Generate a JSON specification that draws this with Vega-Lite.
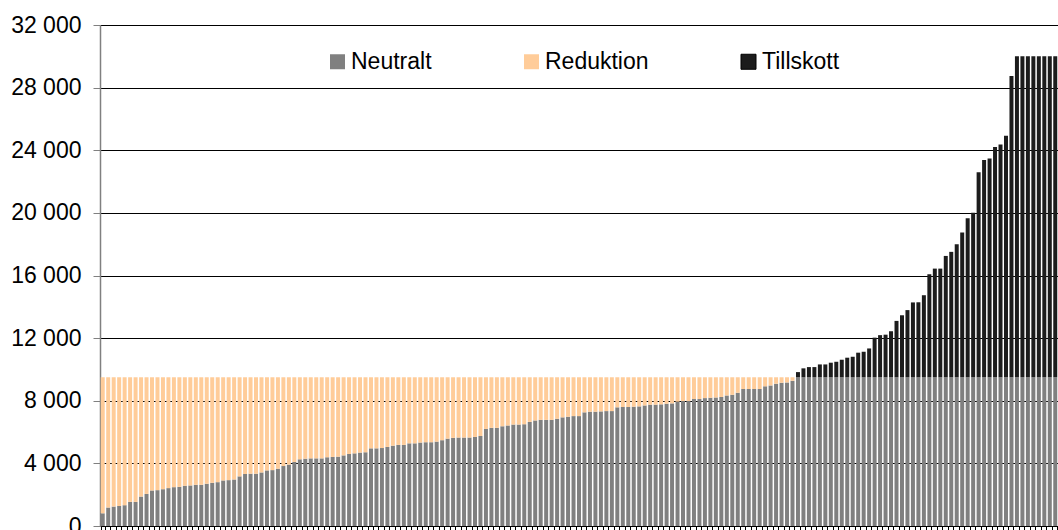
{
  "$schema": "https://vega.github.io/schema/vega-lite/v6.json",
  "autosize": {"type": "none"},
  "padding": {"left": 100, "top": 25, "right": 0, "bottom": 4},
  "width": 958,
  "height": 501,
  "background": "white",
  "config": {
    "view": {"stroke": null},
    "font": "Liberation Sans"
  },
  "data": {
    "values": [
      {"i":1,"Neutralt":810,"Reduktion":8690,"Tillskott":0},
      {"i":2,"Neutralt":1180,"Reduktion":8320,"Tillskott":0},
      {"i":3,"Neutralt":1240,"Reduktion":8260,"Tillskott":0},
      {"i":4,"Neutralt":1280,"Reduktion":8220,"Tillskott":0},
      {"i":5,"Neutralt":1330,"Reduktion":8170,"Tillskott":0},
      {"i":6,"Neutralt":1540,"Reduktion":7960,"Tillskott":0},
      {"i":7,"Neutralt":1540,"Reduktion":7960,"Tillskott":0},
      {"i":8,"Neutralt":1880,"Reduktion":7620,"Tillskott":0},
      {"i":9,"Neutralt":2050,"Reduktion":7450,"Tillskott":0},
      {"i":10,"Neutralt":2270,"Reduktion":7230,"Tillskott":0},
      {"i":11,"Neutralt":2290,"Reduktion":7210,"Tillskott":0},
      {"i":12,"Neutralt":2350,"Reduktion":7150,"Tillskott":0},
      {"i":13,"Neutralt":2420,"Reduktion":7080,"Tillskott":0},
      {"i":14,"Neutralt":2480,"Reduktion":7020,"Tillskott":0},
      {"i":15,"Neutralt":2500,"Reduktion":7000,"Tillskott":0},
      {"i":16,"Neutralt":2570,"Reduktion":6930,"Tillskott":0},
      {"i":17,"Neutralt":2590,"Reduktion":6910,"Tillskott":0},
      {"i":18,"Neutralt":2630,"Reduktion":6870,"Tillskott":0},
      {"i":19,"Neutralt":2630,"Reduktion":6870,"Tillskott":0},
      {"i":20,"Neutralt":2700,"Reduktion":6800,"Tillskott":0},
      {"i":21,"Neutralt":2760,"Reduktion":6740,"Tillskott":0},
      {"i":22,"Neutralt":2800,"Reduktion":6700,"Tillskott":0},
      {"i":23,"Neutralt":2910,"Reduktion":6590,"Tillskott":0},
      {"i":24,"Neutralt":2930,"Reduktion":6570,"Tillskott":0},
      {"i":25,"Neutralt":2970,"Reduktion":6530,"Tillskott":0},
      {"i":26,"Neutralt":3170,"Reduktion":6330,"Tillskott":0},
      {"i":27,"Neutralt":3320,"Reduktion":6180,"Tillskott":0},
      {"i":28,"Neutralt":3340,"Reduktion":6160,"Tillskott":0},
      {"i":29,"Neutralt":3340,"Reduktion":6160,"Tillskott":0},
      {"i":30,"Neutralt":3420,"Reduktion":6080,"Tillskott":0},
      {"i":31,"Neutralt":3550,"Reduktion":5950,"Tillskott":0},
      {"i":32,"Neutralt":3570,"Reduktion":5930,"Tillskott":0},
      {"i":33,"Neutralt":3660,"Reduktion":5840,"Tillskott":0},
      {"i":34,"Neutralt":3830,"Reduktion":5670,"Tillskott":0},
      {"i":35,"Neutralt":3920,"Reduktion":5580,"Tillskott":0},
      {"i":36,"Neutralt":4090,"Reduktion":5410,"Tillskott":0},
      {"i":37,"Neutralt":4260,"Reduktion":5240,"Tillskott":0},
      {"i":38,"Neutralt":4300,"Reduktion":5200,"Tillskott":0},
      {"i":39,"Neutralt":4320,"Reduktion":5180,"Tillskott":0},
      {"i":40,"Neutralt":4320,"Reduktion":5180,"Tillskott":0},
      {"i":41,"Neutralt":4320,"Reduktion":5180,"Tillskott":0},
      {"i":42,"Neutralt":4390,"Reduktion":5110,"Tillskott":0},
      {"i":43,"Neutralt":4410,"Reduktion":5090,"Tillskott":0},
      {"i":44,"Neutralt":4430,"Reduktion":5070,"Tillskott":0},
      {"i":45,"Neutralt":4510,"Reduktion":4990,"Tillskott":0},
      {"i":46,"Neutralt":4600,"Reduktion":4900,"Tillskott":0},
      {"i":47,"Neutralt":4640,"Reduktion":4860,"Tillskott":0},
      {"i":48,"Neutralt":4690,"Reduktion":4810,"Tillskott":0},
      {"i":49,"Neutralt":4710,"Reduktion":4790,"Tillskott":0},
      {"i":50,"Neutralt":4960,"Reduktion":4540,"Tillskott":0},
      {"i":51,"Neutralt":4960,"Reduktion":4540,"Tillskott":0},
      {"i":52,"Neutralt":4980,"Reduktion":4520,"Tillskott":0},
      {"i":53,"Neutralt":5050,"Reduktion":4450,"Tillskott":0},
      {"i":54,"Neutralt":5130,"Reduktion":4370,"Tillskott":0},
      {"i":55,"Neutralt":5180,"Reduktion":4320,"Tillskott":0},
      {"i":56,"Neutralt":5180,"Reduktion":4320,"Tillskott":0},
      {"i":57,"Neutralt":5280,"Reduktion":4220,"Tillskott":0},
      {"i":58,"Neutralt":5280,"Reduktion":4220,"Tillskott":0},
      {"i":59,"Neutralt":5330,"Reduktion":4170,"Tillskott":0},
      {"i":60,"Neutralt":5350,"Reduktion":4150,"Tillskott":0},
      {"i":61,"Neutralt":5350,"Reduktion":4150,"Tillskott":0},
      {"i":62,"Neutralt":5390,"Reduktion":4110,"Tillskott":0},
      {"i":63,"Neutralt":5480,"Reduktion":4020,"Tillskott":0},
      {"i":64,"Neutralt":5580,"Reduktion":3920,"Tillskott":0},
      {"i":65,"Neutralt":5630,"Reduktion":3870,"Tillskott":0},
      {"i":66,"Neutralt":5650,"Reduktion":3850,"Tillskott":0},
      {"i":67,"Neutralt":5650,"Reduktion":3850,"Tillskott":0},
      {"i":68,"Neutralt":5650,"Reduktion":3850,"Tillskott":0},
      {"i":69,"Neutralt":5690,"Reduktion":3810,"Tillskott":0},
      {"i":70,"Neutralt":5750,"Reduktion":3750,"Tillskott":0},
      {"i":71,"Neutralt":6200,"Reduktion":3300,"Tillskott":0},
      {"i":72,"Neutralt":6270,"Reduktion":3230,"Tillskott":0},
      {"i":73,"Neutralt":6270,"Reduktion":3230,"Tillskott":0},
      {"i":74,"Neutralt":6370,"Reduktion":3130,"Tillskott":0},
      {"i":75,"Neutralt":6420,"Reduktion":3080,"Tillskott":0},
      {"i":76,"Neutralt":6480,"Reduktion":3020,"Tillskott":0},
      {"i":77,"Neutralt":6480,"Reduktion":3020,"Tillskott":0},
      {"i":78,"Neutralt":6500,"Reduktion":3000,"Tillskott":0},
      {"i":79,"Neutralt":6650,"Reduktion":2850,"Tillskott":0},
      {"i":80,"Neutralt":6740,"Reduktion":2760,"Tillskott":0},
      {"i":81,"Neutralt":6780,"Reduktion":2720,"Tillskott":0},
      {"i":82,"Neutralt":6780,"Reduktion":2720,"Tillskott":0},
      {"i":83,"Neutralt":6780,"Reduktion":2720,"Tillskott":0},
      {"i":84,"Neutralt":6850,"Reduktion":2650,"Tillskott":0},
      {"i":85,"Neutralt":6940,"Reduktion":2560,"Tillskott":0},
      {"i":86,"Neutralt":6980,"Reduktion":2520,"Tillskott":0},
      {"i":87,"Neutralt":7020,"Reduktion":2480,"Tillskott":0},
      {"i":88,"Neutralt":7020,"Reduktion":2480,"Tillskott":0},
      {"i":89,"Neutralt":7260,"Reduktion":2240,"Tillskott":0},
      {"i":90,"Neutralt":7300,"Reduktion":2200,"Tillskott":0},
      {"i":91,"Neutralt":7300,"Reduktion":2200,"Tillskott":0},
      {"i":92,"Neutralt":7320,"Reduktion":2180,"Tillskott":0},
      {"i":93,"Neutralt":7340,"Reduktion":2160,"Tillskott":0},
      {"i":94,"Neutralt":7340,"Reduktion":2160,"Tillskott":0},
      {"i":95,"Neutralt":7580,"Reduktion":1920,"Tillskott":0},
      {"i":96,"Neutralt":7600,"Reduktion":1900,"Tillskott":0},
      {"i":97,"Neutralt":7600,"Reduktion":1900,"Tillskott":0},
      {"i":98,"Neutralt":7620,"Reduktion":1880,"Tillskott":0},
      {"i":99,"Neutralt":7640,"Reduktion":1860,"Tillskott":0},
      {"i":100,"Neutralt":7700,"Reduktion":1800,"Tillskott":0},
      {"i":101,"Neutralt":7750,"Reduktion":1750,"Tillskott":0},
      {"i":102,"Neutralt":7750,"Reduktion":1750,"Tillskott":0},
      {"i":103,"Neutralt":7770,"Reduktion":1730,"Tillskott":0},
      {"i":104,"Neutralt":7810,"Reduktion":1690,"Tillskott":0},
      {"i":105,"Neutralt":7830,"Reduktion":1670,"Tillskott":0},
      {"i":106,"Neutralt":7940,"Reduktion":1560,"Tillskott":0},
      {"i":107,"Neutralt":7980,"Reduktion":1520,"Tillskott":0},
      {"i":108,"Neutralt":7980,"Reduktion":1520,"Tillskott":0},
      {"i":109,"Neutralt":8110,"Reduktion":1390,"Tillskott":0},
      {"i":110,"Neutralt":8110,"Reduktion":1390,"Tillskott":0},
      {"i":111,"Neutralt":8170,"Reduktion":1330,"Tillskott":0},
      {"i":112,"Neutralt":8190,"Reduktion":1310,"Tillskott":0},
      {"i":113,"Neutralt":8210,"Reduktion":1290,"Tillskott":0},
      {"i":114,"Neutralt":8240,"Reduktion":1260,"Tillskott":0},
      {"i":115,"Neutralt":8340,"Reduktion":1160,"Tillskott":0},
      {"i":116,"Neutralt":8380,"Reduktion":1120,"Tillskott":0},
      {"i":117,"Neutralt":8510,"Reduktion":990,"Tillskott":0},
      {"i":118,"Neutralt":8750,"Reduktion":750,"Tillskott":0},
      {"i":119,"Neutralt":8750,"Reduktion":750,"Tillskott":0},
      {"i":120,"Neutralt":8750,"Reduktion":750,"Tillskott":0},
      {"i":121,"Neutralt":8750,"Reduktion":750,"Tillskott":0},
      {"i":122,"Neutralt":8920,"Reduktion":580,"Tillskott":0},
      {"i":123,"Neutralt":8980,"Reduktion":520,"Tillskott":0},
      {"i":124,"Neutralt":9090,"Reduktion":410,"Tillskott":0},
      {"i":125,"Neutralt":9150,"Reduktion":350,"Tillskott":0},
      {"i":126,"Neutralt":9170,"Reduktion":330,"Tillskott":0},
      {"i":127,"Neutralt":9280,"Reduktion":220,"Tillskott":0},
      {"i":128,"Neutralt":9500,"Reduktion":0,"Tillskott":330},
      {"i":129,"Neutralt":9500,"Reduktion":0,"Tillskott":570},
      {"i":130,"Neutralt":9500,"Reduktion":0,"Tillskott":650},
      {"i":131,"Neutralt":9500,"Reduktion":0,"Tillskott":650},
      {"i":132,"Neutralt":9500,"Reduktion":0,"Tillskott":820},
      {"i":133,"Neutralt":9500,"Reduktion":0,"Tillskott":820},
      {"i":134,"Neutralt":9500,"Reduktion":0,"Tillskott":930},
      {"i":135,"Neutralt":9500,"Reduktion":0,"Tillskott":990},
      {"i":136,"Neutralt":9500,"Reduktion":0,"Tillskott":1120},
      {"i":137,"Neutralt":9500,"Reduktion":0,"Tillskott":1250},
      {"i":138,"Neutralt":9500,"Reduktion":0,"Tillskott":1310},
      {"i":139,"Neutralt":9500,"Reduktion":0,"Tillskott":1570},
      {"i":140,"Neutralt":9500,"Reduktion":0,"Tillskott":1630},
      {"i":141,"Neutralt":9500,"Reduktion":0,"Tillskott":1840},
      {"i":142,"Neutralt":9500,"Reduktion":0,"Tillskott":2530},
      {"i":143,"Neutralt":9500,"Reduktion":0,"Tillskott":2690},
      {"i":144,"Neutralt":9500,"Reduktion":0,"Tillskott":2720},
      {"i":145,"Neutralt":9500,"Reduktion":0,"Tillskott":2940},
      {"i":146,"Neutralt":9500,"Reduktion":0,"Tillskott":3600},
      {"i":147,"Neutralt":9500,"Reduktion":0,"Tillskott":3960},
      {"i":148,"Neutralt":9500,"Reduktion":0,"Tillskott":4290},
      {"i":149,"Neutralt":9500,"Reduktion":0,"Tillskott":4780},
      {"i":150,"Neutralt":9500,"Reduktion":0,"Tillskott":4790},
      {"i":151,"Neutralt":9500,"Reduktion":0,"Tillskott":5240},
      {"i":152,"Neutralt":9500,"Reduktion":0,"Tillskott":6580},
      {"i":153,"Neutralt":9500,"Reduktion":0,"Tillskott":6940},
      {"i":154,"Neutralt":9500,"Reduktion":0,"Tillskott":6940},
      {"i":155,"Neutralt":9500,"Reduktion":0,"Tillskott":7750},
      {"i":156,"Neutralt":9500,"Reduktion":0,"Tillskott":8010},
      {"i":157,"Neutralt":9500,"Reduktion":0,"Tillskott":8500},
      {"i":158,"Neutralt":9500,"Reduktion":0,"Tillskott":9240},
      {"i":159,"Neutralt":9500,"Reduktion":0,"Tillskott":10150},
      {"i":160,"Neutralt":9500,"Reduktion":0,"Tillskott":10510},
      {"i":161,"Neutralt":9500,"Reduktion":0,"Tillskott":13090},
      {"i":162,"Neutralt":9500,"Reduktion":0,"Tillskott":13870},
      {"i":163,"Neutralt":9500,"Reduktion":0,"Tillskott":13980},
      {"i":164,"Neutralt":9500,"Reduktion":0,"Tillskott":14700},
      {"i":165,"Neutralt":9500,"Reduktion":0,"Tillskott":14870},
      {"i":166,"Neutralt":9500,"Reduktion":0,"Tillskott":15430},
      {"i":167,"Neutralt":9500,"Reduktion":0,"Tillskott":19250},
      {"i":168,"Neutralt":9500,"Reduktion":0,"Tillskott":20500},
      {"i":169,"Neutralt":9500,"Reduktion":0,"Tillskott":20500},
      {"i":170,"Neutralt":9500,"Reduktion":0,"Tillskott":20500},
      {"i":171,"Neutralt":9500,"Reduktion":0,"Tillskott":20500},
      {"i":172,"Neutralt":9500,"Reduktion":0,"Tillskott":20500},
      {"i":173,"Neutralt":9500,"Reduktion":0,"Tillskott":20500},
      {"i":174,"Neutralt":9500,"Reduktion":0,"Tillskott":20500},
      {"i":175,"Neutralt":9500,"Reduktion":0,"Tillskott":20500}
    ]
  },
  "transform": [
    {"fold": ["Neutralt", "Reduktion", "Tillskott"], "as": ["serie", "v"]}
  ],
  "mark": {"type": "bar"},
  "encoding": {
    "x": {
      "field": "i",
      "type": "ordinal",
      "sort": "ascending",
      "scale": {"paddingInner": 0.27, "paddingOuter": 0.135},
      "axis": {
        "title": null,
        "labels": false,
        "domainColor": "black",
        "domainWidth": 1,
        "tickColor": "black",
        "tickSize": 5,
        "tickBand": "extent",
        "grid": false
      }
    },
    "y": {
      "field": "v",
      "type": "quantitative",
      "stack": "zero",
      "scale": {"domain": [0, 32000], "nice": false},
      "axis": {
        "title": null,
        "values": [0, 4000, 8000, 12000, 16000, 20000, 24000, 28000, 32000],
        "labelExpr": "replace(format(datum.value, ','), ',', ' ')",
        "labelFont": "Liberation Sans",
        "labelFontSize": 23,
        "labelColor": "black",
        "labelPadding": 12,
        "tickSize": 7,
        "tickColor": "#808080",
        "domainColor": "#808080",
        "domainWidth": 1.5,
        "grid": true,
        "gridColor": "black",
        "gridWidth": 1,
        "gridOpacity": 1
      }
    },
    "color": {
      "field": "serie",
      "type": "nominal",
      "scale": {
        "domain": ["Neutralt", "Reduktion", "Tillskott"],
        "range": ["#808080", "#FFCC99", "#1c1c1c"]
      },
      "legend": {
        "title": null,
        "orient": "none",
        "legendX": 226,
        "legendY": 25,
        "direction": "horizontal",
        "symbolType": "square",
        "symbolSize": 225,
        "symbolOpacity": 1,
        "labelFont": "Liberation Sans",
        "labelFontSize": 23,
        "labelColor": "black",
        "labelOffset": 2,
        "columnPadding": 88,
        "encode": {
          "symbols": {
            "update": {
              "stroke": [
                {"test": "datum.value === 'Tillskott'", "value": "black"},
                {"value": "transparent"}
              ],
              "strokeWidth": {"value": 1}
            }
          }
        }
      }
    },
    "order": {"field": "serie", "sort": "ascending"}
  }
}
